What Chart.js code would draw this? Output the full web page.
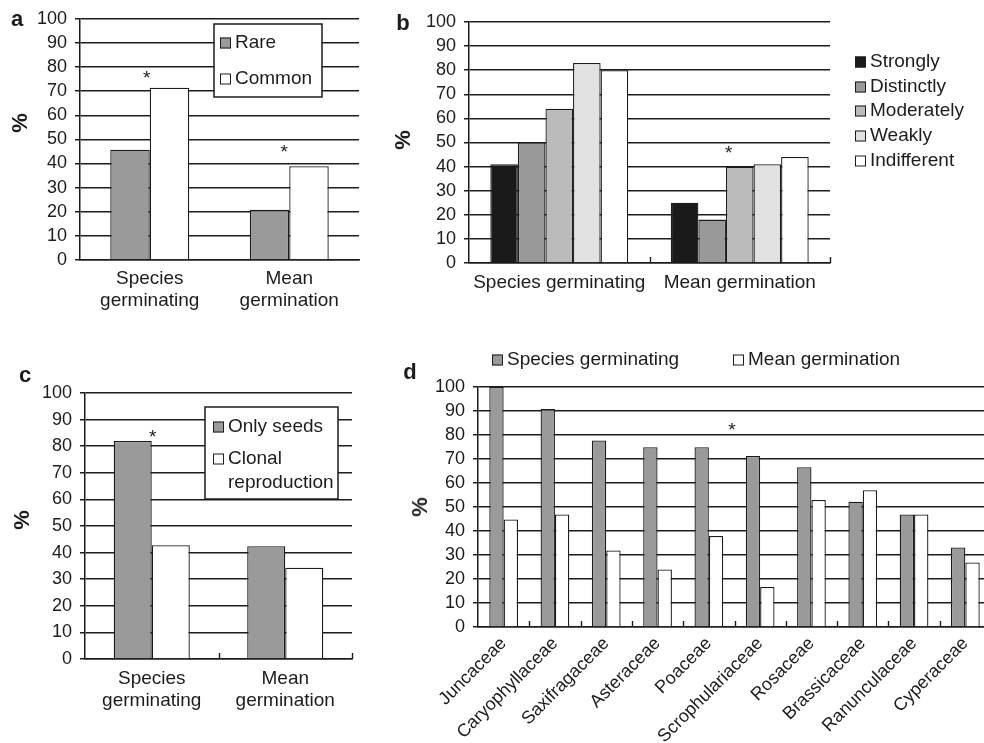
<!DOCTYPE html>
<html>
<head>
<meta charset="utf-8">
<script src="https://cdn.jsdelivr.net/npm/chart.js@4.4.1/dist/chart.umd.min.js"></script>
<style>
  body { margin: 0; width: 984px; height: 743px; overflow: hidden; background: #fff; position: relative; }
  canvas { position: absolute; }
  .tag { position: absolute; font: bold 22px "Liberation Sans", Arial, sans-serif; color: #1c1c1c; transform: translate(-50%, -50%); }
  .pct { position: absolute; font: bold 22px "Liberation Sans", Arial, sans-serif; color: #1c1c1c; transform: translate(-50%, -50%) rotate(-90deg); }
</style>
</head>
<body>
<canvas id="ca" width="370" height="320" style="left:0;top:0"></canvas>
<canvas id="cb" width="604" height="310" style="left:380px;top:0"></canvas>
<canvas id="cc" width="370" height="423" style="left:0;top:320px"></canvas>
<canvas id="cd" width="620" height="430" style="left:390px;top:330px"></canvas>

<div class="tag" style="left:17px;top:19px">a</div>
<div class="tag" style="left:403px;top:23px">b</div>
<div class="tag" style="left:25px;top:375px">c</div>
<div class="tag" style="left:410px;top:372px">d</div>
<div class="pct" style="left:20px;top:123px">%</div>
<div class="pct" style="left:403px;top:140px">%</div>
<div class="pct" style="left:22px;top:520px">%</div>
<div class="pct" style="left:420px;top:507px">%</div>

<script>
// panel a: rarity
const groupsTwoLine = [['Species', 'germinating'], ['Mean', 'germination']];
const rareVals = [45.7, 20.8];
const commonVals = [71.4, 38.9];

// panel b: habitat specialisation
const groupsOneLine = ['Species germinating', 'Mean germination'];
const stronglyVals = [41, 25];
const distinctlyVals = [50, 18];
const moderatelyVals = [64, 40];
const weaklyVals = [83, 41];
const indifferentVals = [80, 44];

// panel c: reproduction
const onlySeedsVals = [82, 42.4];
const clonalVals = [42.8, 34.3];

// panel d: families
const families = ['Juncaceae', 'Caryophyllaceae', 'Saxifragaceae', 'Asteraceae', 'Poaceae',
  'Scrophulariaceae', 'Rosaceae', 'Brassicaceae', 'Ranunculaceae', 'Cyperaceae'];
const famSpeciesVals = [100, 90.8, 77.7, 74.9, 74.9, 71.3, 66.6, 52.2, 46.9, 33.1];
const famMeanVals = [44.8, 46.9, 31.9, 24, 37.9, 16.7, 52.9, 57, 46.9, 26.9];

// asterisks (category index, height in %)
const starsA = [{ i: 0, v: 77, dx: -3 }, { i: 1, v: 46, dx: -5 }];
const starsB = [{ i: 1, v: 47, dx: -11 }];
const starsC = [{ i: 0, v: 84.5, dx: 1 }];
const starsD = [{ i: 4, v: 83.3, dx: 23 }];

const FONT = '"Liberation Sans", Arial, Helvetica, sans-serif';
const INK = '#1c1c1c';

const starPlugin = {
  id: 'stars',
  afterDatasetsDraw(chart, args, opts) {
    if (!opts.list) return;
    const { ctx, scales: { x, y } } = chart;
    ctx.save();
    ctx.font = '19px ' + FONT;
    ctx.fillStyle = INK;
    ctx.textAlign = 'center';
    ctx.textBaseline = 'middle';
    opts.list.forEach(s => {
      ctx.fillText('*', x.getPixelForValue(s.i) + s.dx, y.getPixelForValue(s.v) + 4);
    });
    ctx.restore();
  }
};

// legend drawn by hand so it can sit inside a framed box
const boxLegend = {
  id: 'boxLegend',
  afterDraw(chart, args, o) {
    if (!o.items) return;
    const ctx = chart.ctx;
    ctx.save();
    if (o.box) {
      const [bx, by, bw, bh] = o.box;
      ctx.fillStyle = '#fff';
      ctx.fillRect(bx, by, bw, bh);
      ctx.strokeStyle = INK;
      ctx.lineWidth = 1.5;
      ctx.strokeRect(bx, by, bw, bh);
    }
    ctx.font = '19px ' + FONT;
    ctx.textBaseline = 'middle';
    chart.data.datasets.forEach((ds, k) => {
      const [sx, sy] = o.items[k];
      ctx.fillStyle = ds.backgroundColor;
      ctx.fillRect(sx, sy - 5.5, 11, 11);
      ctx.strokeStyle = INK;
      ctx.lineWidth = 1;
      ctx.strokeRect(sx + 0.5, sy - 5, 10, 10);
      ctx.fillStyle = INK;
      ds.label.split('\n').forEach((line, j) => ctx.fillText(line, sx + 15, sy + j * 24));
    });
    ctx.restore();
  }
};

// small upward ticks between the categories
const catTicks = {
  id: 'catTicks',
  afterDatasetsDraw(chart, args, o) {
    if (!o.len) return;
    const ctx = chart.ctx, x = chart.scales.x, n = chart.data.labels.length;
    const y0 = chart.chartArea.bottom;
    ctx.save();
    ctx.strokeStyle = INK;
    ctx.lineWidth = 1.4;
    ctx.beginPath();
    for (let i = 1; i <= n; i++) {
      const px = Math.round(x.left + i * x.width / n) + 0.5;
      ctx.moveTo(px, y0);
      ctx.lineTo(px, y0 - o.len);
    }
    ctx.stroke();
    ctx.restore();
  }
};

Chart.register(starPlugin, boxLegend, catTicks);

function barChart(id, labels, sets, o) {
  return new Chart(document.getElementById(id), {
    type: 'bar',
    data: {
      labels: labels,
      datasets: sets.map(s => ({
        label: s[0], data: s[1], backgroundColor: s[2],
        borderColor: INK, borderWidth: 1.3,
        categoryPercentage: o.catPct, barPercentage: 1
      }))
    },
    options: {
      responsive: false,
      animation: false,
      layout: { padding: o.pad },
      plugins: {
        legend: { display: false },
        tooltip: { enabled: false },
        boxLegend: o.legend,
        stars: { list: o.stars },
        catTicks: { len: o.tickLen || 0 }
      },
      scales: {
        x: {
          grid: { display: false, drawTicks: false },
          border: { display: true, color: INK, width: 1.5 },
          ticks: {
            color: INK, font: { family: FONT, size: o.xFont || 19 }, padding: o.xPad,
            maxRotation: o.rot || 0, minRotation: o.rot || 0, autoSkip: false
          },
          afterFit: s => { s.height = o.xH; }
        },
        y: {
          min: 0, max: 100,
          ticks: { stepSize: 10, autoSkip: false, color: INK, font: { family: FONT, size: 18 }, padding: 8 },
          grid: { color: INK, lineWidth: 1.5, tickLength: 5 },
          border: { color: INK, width: 1.5 },
          afterFit: s => { s.width = o.yW; }
        }
      }
    }
  });
}

barChart('ca', groupsTwoLine, [
  ['Rare', rareVals, '#9a9a9a'],
  ['Common', commonVals, '#ffffff']
], {
  pad: { left: 0, top: 17, right: 11, bottom: 5 }, yW: 80, xH: 55, xPad: 7, catPct: 0.566,
  legend: { box: [214, 24, 108, 73], items: [[220, 43], [220, 79]] },
  stars: starsA
});

barChart('cb', groupsOneLine, [
  ['Strongly', stronglyVals, '#1a1a1a'],
  ['Distinctly', distinctlyVals, '#999999'],
  ['Moderately', moderatelyVals, '#bbbbbb'],
  ['Weakly', weaklyVals, '#e2e2e2'],
  ['Indifferent', indifferentVals, '#ffffff']
], {
  pad: { left: 0, top: 22, right: 154, bottom: 12 }, yW: 89, xH: 35, xPad: 8, catPct: 0.764,
  legend: { items: [[475, 62], [475, 87], [475, 111], [475, 136], [475, 161]] },
  stars: starsB, tickLen: 6
});

barChart('cc', groupsTwoLine, [
  ['Only seeds', onlySeedsVals, '#9a9a9a'],
  ['Clonal\nreproduction', clonalVals, '#ffffff']
], {
  pad: { left: 0, top: 73, right: 18, bottom: 29 }, yW: 85, xH: 55, xPad: 8, catPct: 0.57,
  legend: { box: [205, 87, 133, 92], items: [[213, 107], [213, 139]] },
  stars: starsC, tickLen: 6
});

barChart('cd', families, [
  ['Species germinating', famSpeciesVals, '#9a9a9a'],
  ['Mean germination', famMeanVals, '#ffffff']
], {
  pad: { left: 0, top: 57, right: 19, bottom: 13 }, yW: 88, xH: 120, xPad: 6, xFont: 18, rot: 45,
  catPct: 0.56,
  legend: { items: [[102, 30], [343, 30]] },
  stars: starsD, tickLen: 6
});
</script>
</body>
</html>
